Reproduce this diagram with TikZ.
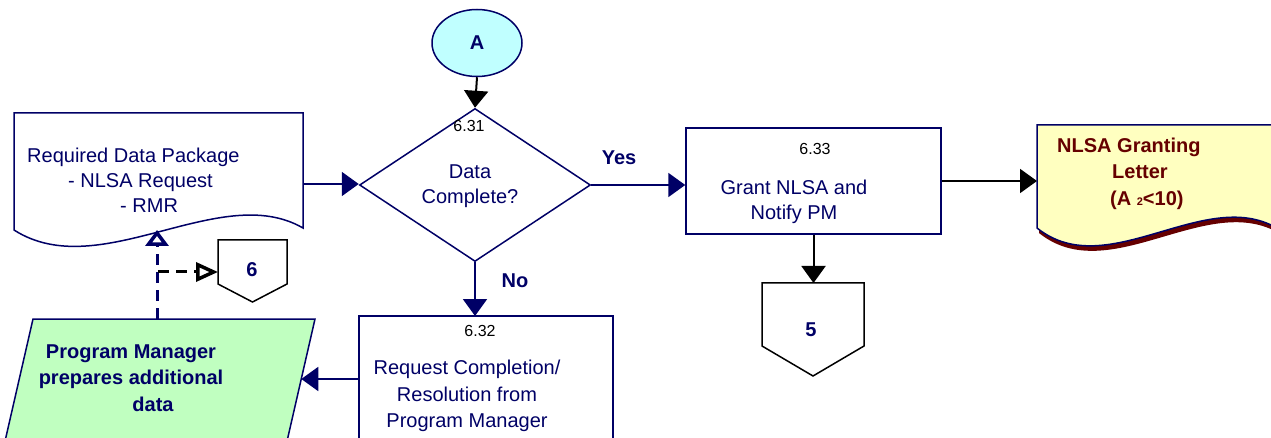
\documentclass[tikz,border=0pt]{standalone}
\usepackage{fontspec}
\setmainfont{Liberation Sans}
\usetikzlibrary{shapes.geometric,arrows.meta}
\definecolor{navy}{RGB}{0,0,102}
\definecolor{lcyan}{RGB}{192,255,255}
\definecolor{lgreen}{RGB}{192,255,192}
\definecolor{lyellow}{RGB}{255,255,192}
\definecolor{dred}{RGB}{102,0,0}
\begin{document}
\begin{tikzpicture}[x=1pt,y=-1pt,
  every node/.style={inner sep=0pt, font=\fontsize{20}{25}\selectfont},
  lbl/.style={text=navy},
  num/.style={text=black, font=\fontsize{16}{16}\selectfont},
  boldtxt/.style={font=\fontsize{20}{26.5}\selectfont\bfseries},
  outline/.style={draw=navy, line width=1.5pt},
  offpage/.style={draw=black, line width=1.5pt, fill=white},
  navyarrow/.style={draw=navy, line width=2pt, -{Triangle[length=17pt,width=24pt]}},
  blackarrow/.style={draw=black, line width=2pt, -{Triangle[length=17pt,width=24pt]}},
  dashline/.style={line width=3pt, dash pattern=on 11pt off 7pt},
  uptip/.style={-{Triangle[open,fill=white,line width=3.5pt,length=16pt,width=23pt]}},
  sidetip/.style={-{Triangle[open,fill=white,line width=3.5pt,length=22pt,width=19pt]}}]
\useasboundingbox (0,0) rectangle (1271,438);
\clip (0,0) rectangle (1271,438);

% connector A and decision 6.31
\node[ellipse, outline, fill=lcyan, minimum width=90pt, minimum height=67pt,
      text=navy, font=\fontsize{20}{25}\selectfont\bfseries] (A) at (477,43) {A};
\node[diamond, outline, minimum width=231pt, minimum height=153pt] (dec) at (475,185) {};

% process 6.33
\node[rectangle, outline, minimum width=255pt, minimum height=106pt] (grant) at (813.5,181) {};

% document: required data package
\draw[outline, fill=white] (14,113) -- (303,113) -- (303,228)
  .. controls (220,180) and (100,285) .. (14,230) -- cycle;
\coordinate (rdpE) at (303,184);
\coordinate (rdpS) at (157,230);

% document: NLSA granting letter, with its shadow
\fill[dred, xshift=2pt, yshift=-5pt] (1037,125) -- (1280,125) -- (1280,230)
  .. controls (1207,183) and (1108,285) .. (1037,228) -- cycle;
\draw[outline, fill=lyellow] (1037,125) -- (1280,125) -- (1280,230)
  .. controls (1207,183) and (1108,285) .. (1037,228) -- cycle;
\coordinate (nlsaW) at (1037,181);

% off-page connectors 6 and 5
\draw[offpage] (218,240) -- (287,240) -- (287,284) -- (252.5,302) -- (218,284) -- cycle;
\coordinate (c6W) at (218,272);
\draw[offpage] (762,283) -- (864,283) -- (864,346) -- (813,376) -- (762,346) -- cycle;
\coordinate (c5N) at (813.5,283);

% process 6.32
\draw[outline, fill=white] (359,316) rectangle (613,460);
\coordinate (reqN) at (475,316);
\coordinate (reqW) at (359,379);

% manual input: program manager
\draw[outline, fill=lgreen] (33,319) -- (315,319) -- (285,450) -- (3,450) -- cycle;
\coordinate (pmE) at (301.3,379);
\coordinate (pmN) at (157,319);
\coordinate (pmBend) at (158,272);

% connectors
\draw[blackarrow] (A.south) -- (dec.north);
\draw[navyarrow] (rdpE) -- (rdpE -| dec.west);
\draw[navyarrow] (dec.east) -- (dec.east -| grant.west);
\draw[blackarrow] (grant.east) -- (grant.east -| nlsaW);
\draw[blackarrow] (grant.south) -- (c5N);
\draw[navyarrow] (dec.south) -- (reqN);
\draw[navyarrow] (reqW) -- (pmE);
\draw[dashline, uptip, navy] (pmN) -- (rdpS);
\draw[dashline, sidetip, black] (pmBend) -- (c6W);

% labels
\node[lbl, align=left, anchor=west] (rdpText) at (27,180)
  {Required Data Package\\\hspace*{41pt}- NLSA Request\\\hspace*{93pt}- RMR};
\node[num] (n631) at (469,126) {6.31};
\node[lbl, align=center] (decText) at (470,186) {Data\\Complete?};
\node[lbl, boldtxt] (yes) at (619,158) {Yes};
\node[lbl, boldtxt] (no) at (515,281) {No};
\node[num] (n633) at (815,149) {6.33};
\node[lbl, align=center] (grantText) at (794,201.5) {Grant NLSA and\\Notify PM};
\node[text=dred, boldtxt, align=left, anchor=west] (nlsaText) at (1057,173.4)
  {NLSA Granting\\\hspace*{55pt}Letter\\\hspace*{53pt}(A {\fontsize{11}{11}\selectfont 2}<10)};
\node[lbl, boldtxt] (c6Text) at (252,270) {6};
\node[lbl, boldtxt] (c5Text) at (811,330) {5};
\node[num] (n632) at (480,331) {6.32};
\node[lbl, align=center, font=\fontsize{20}{26.5}\selectfont] (reqText) at (467,396)
  {Request Completion/\\Resolution from\\Program Manager};
\node[lbl, boldtxt, align=center] (pmText) at (131,378)
  {Program Manager\\prepares additional\\\hspace*{44pt}data};
\end{tikzpicture}
\end{document}
